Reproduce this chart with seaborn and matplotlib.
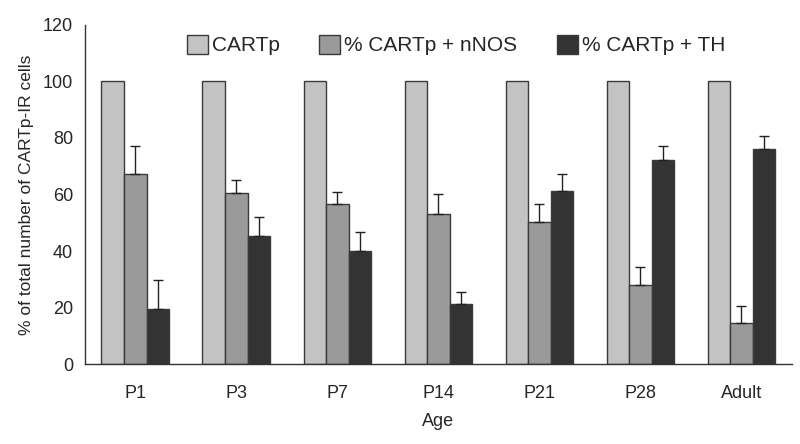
import matplotlib
matplotlib.use("Agg")
import matplotlib.pyplot as plt
import seaborn as sns
import pandas as pd
import numpy as np

# Datos
ages = ["P1", "P3", "P7", "P14", "P21", "P28", "Adult"]
series = ["CARTp", "% CARTp + nNOS", "% CARTp + TH"]
cartp = [100, 100, 100, 100, 100, 100, 100]
nnos = [67.1, 60.6, 56.8, 53.0, 50.2, 27.9, 14.7]
th = [19.4, 45.3, 39.9, 21.3, 61.1, 72.2, 76.2]
cartp_err = [0, 0, 0, 0, 0, 0, 0]
nnos_err = [10.0, 4.4, 4.2, 7.0, 6.6, 6.6, 5.9]
th_err = [10.4, 6.9, 6.7, 4.2, 6.1, 5.0, 4.6]

colors = ["#c3c3c3", "#9a9a9a", "#333333"]

df = pd.DataFrame({
    "age": ages * 3,
    "serie": [series[0]] * 7 + [series[1]] * 7 + [series[2]] * 7,
    "valor": cartp + nnos + th,
})

sns.set_style("white")
plt.rcParams["font.family"] = ["Liberation Sans", "DejaVu Sans"]

fig = plt.figure(figsize=(8, 4.44), dpi=100)
ax = fig.add_axes([0.106, 0.18, 0.884, 0.764])

sns.barplot(data=df, x="age", y="valor", hue="serie", order=ages,
            hue_order=series, palette=colors, width=0.67, gap=0,
            edgecolor="#3a3a3a", linewidth=1.0, errorbar=None, ax=ax)

# Barras de error (solo hacia arriba)
errs = [cartp_err, nnos_err, th_err]
for cont, vals, e in zip(ax.containers, [cartp, nnos, th], errs):
    xs = [p.get_x() + p.get_width() / 2 for p in cont.patches]
    e = np.array(e)
    mask = e > 0
    if mask.any():
        ax.errorbar(np.array(xs)[mask], np.array(vals)[mask],
                    yerr=[np.zeros(mask.sum()), e[mask]], fmt="none",
                    ecolor="#222222", elinewidth=1.0, capsize=3.5, capthick=1.0)

ax.set_ylim(0, 120)
ax.set_yticks(range(0, 121, 20))
ax.set_xlim(-0.5, 6.5)
ax.set_xticks(np.arange(-0.5, 7, 1))
ax.set_xticklabels([])
ax.set_xticks(range(7), minor=True)
ax.set_xticklabels(ages, minor=True)
ax.tick_params(axis="x", which="major", length=5, width=1, color="#333333", direction="out")
ax.tick_params(axis="x", which="minor", length=0, pad=15, labelsize=13)
ax.tick_params(axis="y", length=5, width=1, color="#333333", direction="out", labelsize=13)

for s in ["top", "right"]:
    ax.spines[s].set_visible(False)
for s in ["left", "bottom"]:
    ax.spines[s].set_color("#333333")
    ax.spines[s].set_linewidth(1)

ax.set_xlabel("Age", fontsize=13, labelpad=8)
ax.set_ylabel("% of total number of CARTp-IR cells", fontsize=12.5, labelpad=6)

ax.legend(title=None, ncol=3, loc="center", bbox_to_anchor=(0.525, 0.94),
          frameon=False, fontsize=15, handlelength=1.0, handleheight=1.0,
          handletextpad=0.2, columnspacing=1.9)

plt.savefig("out.png", dpi=100)
